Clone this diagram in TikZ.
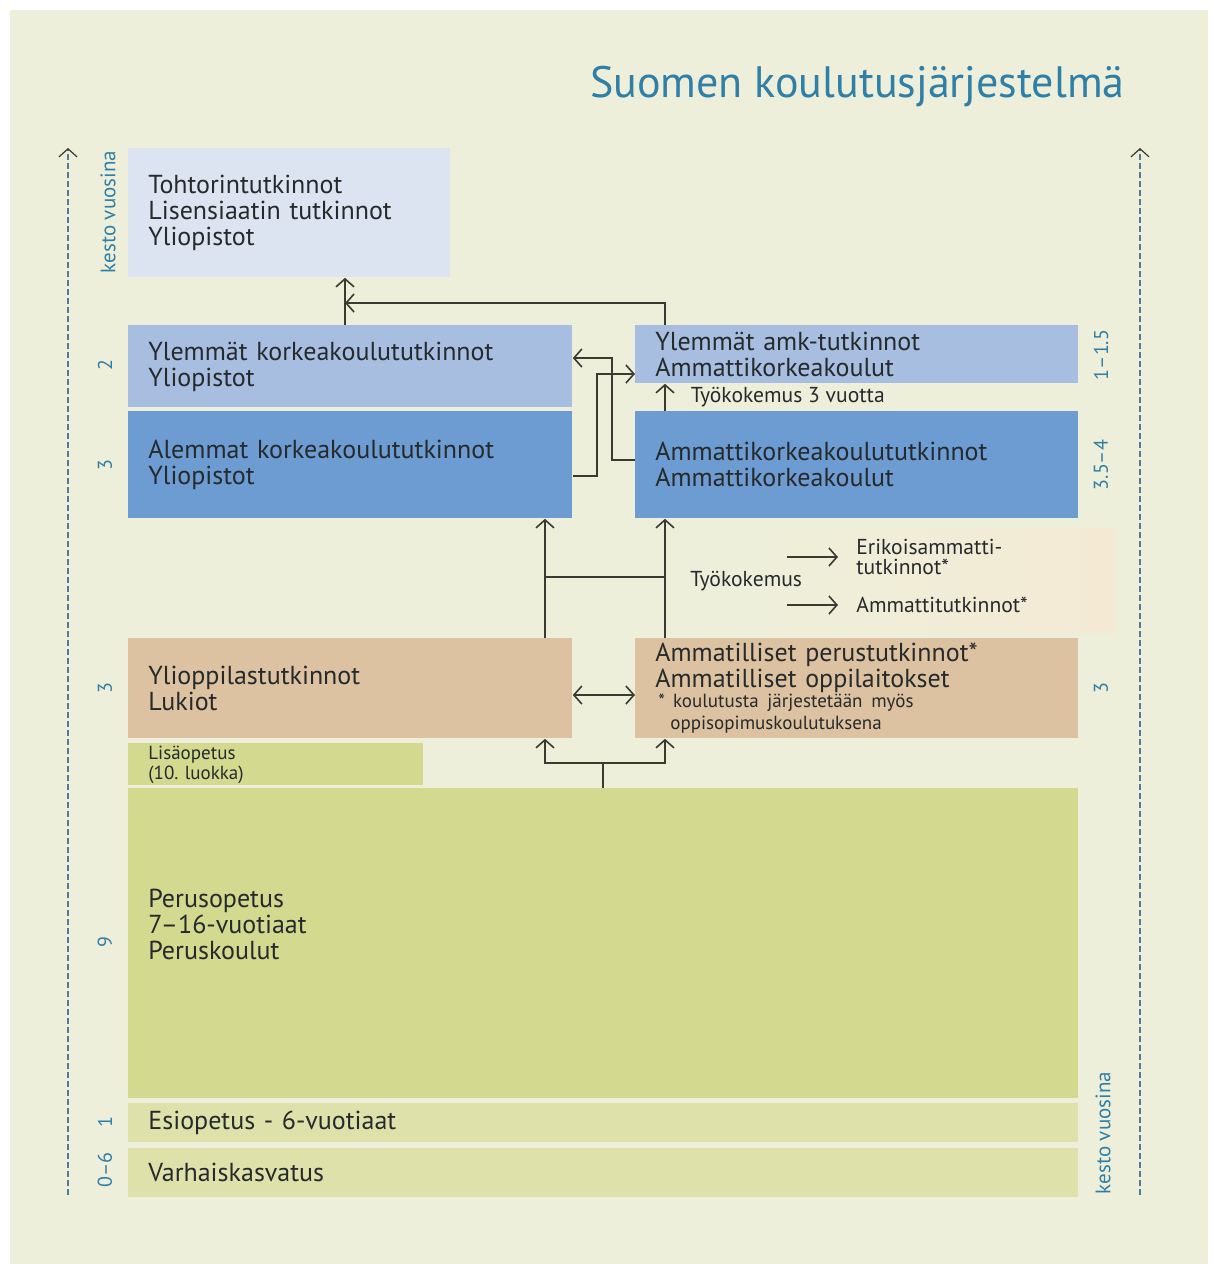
\documentclass[tikz,border=0pt]{standalone}
\usepackage{fontspec}
\setmainfont{PT Sans}
\usepackage{xcolor}
\usetikzlibrary{arrows.meta,positioning}

\definecolor{paper}{HTML}{EEEFDA}
\definecolor{paleblue}{HTML}{DDE4F1}
\definecolor{midblue}{HTML}{A7BEE0}
\definecolor{deepblue}{HTML}{6C9CD1}
\definecolor{tan}{HTML}{DCC2A0}
\definecolor{olive}{HTML}{D3D98F}
\definecolor{paleolive}{HTML}{DEE2AA}
\definecolor{peach}{HTML}{F4EAD4}
\definecolor{ink}{HTML}{262A2C}
\definecolor{wire}{HTML}{3A3A30}
\definecolor{sea}{HTML}{2F7FA6}
\definecolor{axisblue}{HTML}{4E7D95}

\begin{document}
\begin{tikzpicture}[x=0.5pt,y=-0.5pt,
  >={Straight Barb[length=4pt,width=9pt]},
  box/.style={anchor=north west, inner xsep=10pt, inner ysep=0pt, align=left,
    text=ink, font=\fontsize{13}{13}\selectfont},
  smalltext/.style={inner sep=0pt, text=ink, font=\fontsize{10.8}{10}\selectfont},
  years/.style={rotate=90, inner sep=0pt, text=sea, font=\fontsize{10}{10}\selectfont},
  arr/.style={->, draw=wire, line width=0.8pt},
  dbl/.style={<->, draw=wire, line width=0.8pt},
  link/.style={draw=wire, line width=0.8pt},
  axis/.style={-{Straight Barb[length=4pt,width=9pt,color=wire]}, draw=axisblue,
    line width=0.6pt, dash pattern=on 3pt off 1.5pt}]

% paper and frame
\fill[white] (0,0) rectangle (1214,1271);
\fill[paper] (10,10) rectangle (1208,1264);
\useasboundingbox (0,0) rectangle (1214,1271);
\shade[left color=paper, right color=peach] (740,528) rectangle (1116,632);

% title
\node[anchor=east, inner sep=0pt, text=sea, font=\fontsize{22}{22}\selectfont] (title) at (1125,86) {Suomen koulutusjärjestelmä};

% duration axes
\coordinate (axlb) at (68,1195);
\coordinate (axlt) at (68,148);
\coordinate (axrb) at (1140,1195);
\coordinate (axrt) at (1140,148);
\draw[axis] (axlb) -- (axlt);
\draw[axis] (axrb) -- (axrt);
\node[years, font=\fontsize{10.5}{10.5}\selectfont] (kestol) at (108,212) {kesto vuosina};
\node[years, font=\fontsize{10.5}{10.5}\selectfont] (kestor) at (1103,1133) {kesto vuosina};

% boxes
\node[box, fill=paleblue, minimum width=161pt, text width=141pt, minimum height=64.5pt] (doc) at (128,148) {Tohtorintutkinnot\\Lisensiaatin tutkinnot\\Yliopistot};
\node[box, fill=midblue, minimum width=222pt, text width=202pt, minimum height=41pt] (ylkk) at (128,325) {Ylemmät korkeakoulututkinnot\\Yliopistot};
\node[box, fill=deepblue, minimum width=222pt, text width=202pt, minimum height=53.5pt] (alkk) at (128,411) {Alemmat korkeakoulututkinnot\\Yliopistot};
\node[box, fill=midblue, minimum width=221.5pt, text width=201.5pt, minimum height=29pt] (ylamk) at (635,325) {Ylemmät amk-tutkinnot\\Ammattikorkeakoulut};
\node[box, fill=deepblue, minimum width=221.5pt, text width=201.5pt, minimum height=53.5pt] (amk) at (635,411) {Ammattikorkeakoulututkinnot\\Ammattikorkeakoulut};
\node[box, fill=tan, minimum width=222pt, text width=202pt, minimum height=50pt] (lukio) at (128,638) {Ylioppilastutkinnot\\Lukiot};
\node[box, fill=tan, minimum width=221.5pt, text width=201.5pt, minimum height=50pt, font=\fontsize{13}{11}\selectfont] (ammat) at (635,638) {Ammatilliset perustutkinnot*\\Ammatilliset oppilaitokset\\\fontsize{9.5}{10}\selectfont\hspace*{1.5pt}*\hspace{4pt}koulutusta järjestetään myös\\\fontsize{9.5}{10}\selectfont\hspace*{7.5pt}oppisopimuskoulutuksena};
\node[box, fill=olive, minimum width=147.5pt, text width=127.5pt, minimum height=21pt, font=\fontsize{9.5}{10}\selectfont] (lisa) at (128,743) {Lisäopetus\\(10.\ luokka)};
\node[box, fill=olive, minimum width=475pt, text width=455pt, minimum height=155pt, text depth=45pt] (perus) at (128,788) {Perusopetus\\7–16-vuotiaat\\Peruskoulut};
\node[box, fill=paleolive, minimum width=475pt, text width=455pt, minimum height=19.5pt] (esi) at (128,1103) {Esiopetus - 6-vuotiaat};
\node[box, fill=paleolive, minimum width=475pt, text width=455pt, minimum height=24.5pt] (varh) at (128,1148) {Varhaiskasvatus};

% years
\node[years] (y2) at (105,365) {2};
\node[years] (y3a) at (105,465) {3};
\node[years] (y3b) at (105,688) {3};
\node[years] (y9) at (105,942) {9};
\node[years] (y1) at (105,1122) {1};
\node[years] (y06) at (105,1170) {0–6};
\node[years] (r15) at (1101,355) {1–1.5};
\node[years] (r354) at (1101,465) {3.5–4};
\node[years] (r3) at (1101,688) {3};

% columns and rows of the connectors
\coordinate (xa) at (345,0);
\coordinate (xb) at (545,0);
\coordinate (xm) at (603,0);
\coordinate (xc) at (665,0);
\coordinate (yj) at (0,303);
\coordinate (yw) at (0,577);
\coordinate (yd) at (0,695);
\coordinate (ys) at (0,763);
\coordinate (k1) at (597,476);
\coordinate (k2) at (597,374);
\coordinate (k3) at (612,460);
\coordinate (k4) at (612,358);

% connectors
\draw[arr] (ylkk.north -| xa) -- (doc.south -| xa);
\draw[arr] (ylamk.north -| xc) -- (yj -| xc) -- (yj -| xa);
\draw[arr] (alkk.east |- k1) -- (k1) -- (k2) -- (ylamk.west |- k2);
\draw[arr] (amk.west |- k3) -- (k3) -- (k4) -- (ylkk.east |- k4);
\draw[arr] (amk.north -| xc) -- (ylamk.south -| xc)
  node[smalltext, midway, anchor=west, xshift=12.5pt] (tyo3) {Työkokemus 3 vuotta};
\draw[arr] (lukio.north -| xb) -- (alkk.south -| xb);
\draw[arr] (ammat.north -| xc) -- (amk.south -| xc);
\draw[link] (yw -| xb) -- (yw -| xc);
\draw[dbl] (lukio.east |- yd) -- (ammat.west |- yd);
\draw[arr] (perus.north -| xm) |- (ys -| xb) -- (lukio.south -| xb);
\draw[arr] (ys -| xm) -| (ammat.south -| xc);

% work experience
\node[smalltext, anchor=west] (tyo) at (690,581) {Työkokemus};
\node[smalltext, anchor=west, align=left, inner xsep=9pt] (erik) at (838,557) {Erikoisammatti-\\tutkinnot*};
\node[smalltext, anchor=west, inner xsep=9pt] (ammt) at (838,605) {Ammattitutkinnot*};
\coordinate (wx) at (787,0);
\draw[arr] (erik.west -| wx) -- (erik.west);
\draw[arr] (ammt.west -| wx) -- (ammt.west);
\end{tikzpicture}
\end{document}
